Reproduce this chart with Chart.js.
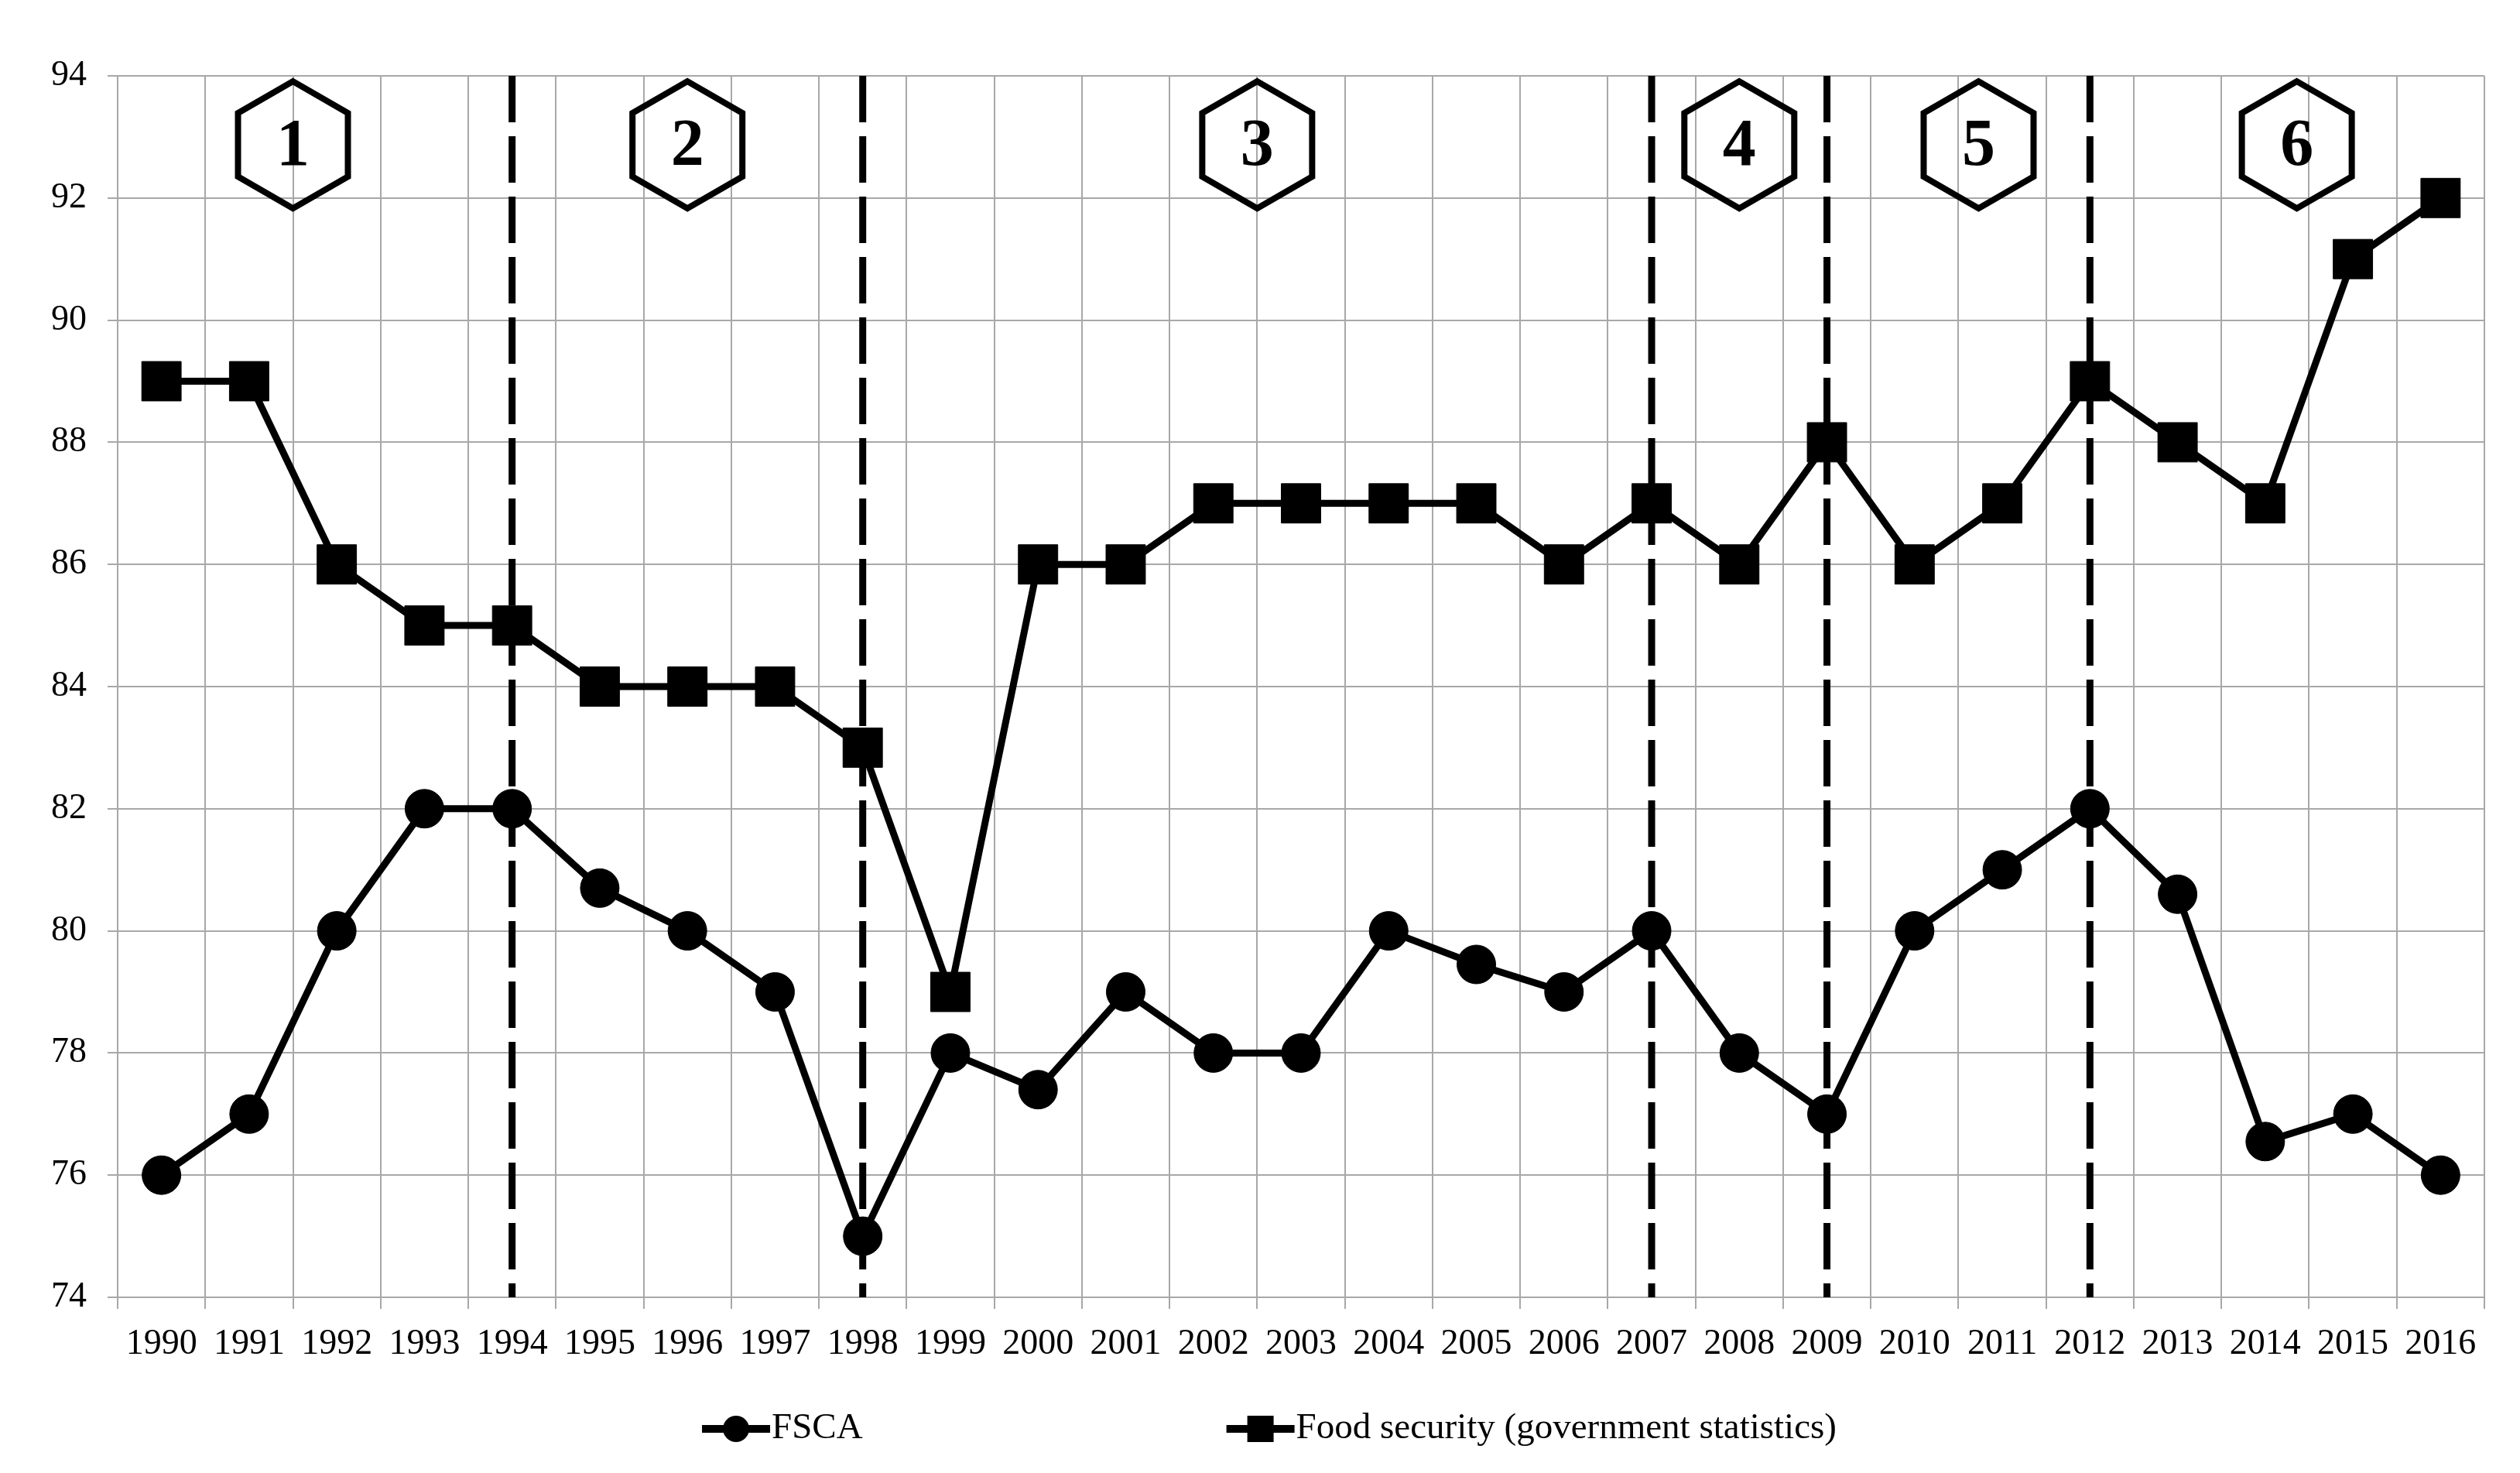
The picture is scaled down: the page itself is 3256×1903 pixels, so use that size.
<!DOCTYPE html>
<html>
<head>
<meta charset="utf-8">
<script src="https://cdn.jsdelivr.net/npm/chart.js@4.4.0/dist/chart.umd.min.js"></script>
<style>
  html, body { margin: 0; padding: 0; background: #fff; }
  #container_chart { width: 3256px; height: 1903px; }
</style>
</head>
<body>
<div id="container_chart"><canvas id="myChart" width="3256" height="1903"></canvas></div>
<script>
var years = ['1990', '1991', '1992', '1993', '1994', '1995', '1996', '1997', '1998', '1999',
             '2000', '2001', '2002', '2003', '2004', '2005', '2006', '2007', '2008', '2009',
             '2010', '2011', '2012', '2013', '2014', '2015', '2016'];
var fsca = [76, 77, 80, 82, 82, 80.7, 80, 79, 75, 78,
            77.4, 79, 78, 78, 80, 79.45, 79, 80, 78, 77,
            80, 81, 82, 80.6, 76.55, 77, 76];
var foodSecurity = [89, 89, 86, 85, 85, 84, 84, 84, 83, 79,
                    86, 86, 87, 87, 87, 87, 86, 87, 86, 88,
                    86, 87, 89, 88, 87, 91, 92];
var yMin = 74, yMax = 94, yStep = 2;

// period boundaries and the numbered hexagons
var periodBreaks = ['1994', '1998', '2007', '2009', '2012'];
var periodNames = ['1', '2', '3', '4', '5', '6'];
var periodPos = [1.5, 6, 12.5, 18, 20.73, 24.36];
var periodLevel = 92.87;

var serif = '"Liberation Serif", "Times New Roman", serif';
var gridColor = '#a8a8a8';

var periodPlugin = {
    id: 'periods',
    beforeDatasetsDraw: function (chart) {
        var ctx = chart.ctx, xs = chart.scales.x, ys = chart.scales.y, area = chart.chartArea;
        ctx.save();
        ctx.strokeStyle = '#000';
        ctx.lineWidth = 9;
        ctx.setLineDash([60, 18]);
        periodBreaks.forEach(function (yr) {
            var px = xs.getPixelForValue(years.indexOf(yr));
            ctx.beginPath();
            ctx.moveTo(px, area.top);
            ctx.lineTo(px, area.bottom);
            ctx.stroke();
        });
        ctx.setLineDash([]);
        ctx.lineWidth = 8;
        ctx.lineJoin = 'miter';
        ctx.fillStyle = '#000';
        ctx.font = 'bold 86px ' + serif;
        ctx.textAlign = 'center';
        ctx.textBaseline = 'middle';
        var hw = 71, hh = 82, side = 41;
        periodNames.forEach(function (name, i) {
            var cx = xs.getPixelForValue(periodPos[i]);
            var cy = ys.getPixelForValue(periodLevel);
            ctx.beginPath();
            ctx.moveTo(cx, cy - hh);
            ctx.lineTo(cx + hw, cy - side);
            ctx.lineTo(cx + hw, cy + side);
            ctx.lineTo(cx, cy + hh);
            ctx.lineTo(cx - hw, cy + side);
            ctx.lineTo(cx - hw, cy - side);
            ctx.closePath();
            ctx.stroke();
            ctx.fillText(name, cx, cy + 4);
        });
        ctx.restore();
    }
};

var legendPlugin = {
    id: 'bottomLegend',
    afterDraw: function (chart) {
        var ctx = chart.ctx;
        ctx.save();
        ctx.font = '47px ' + serif;
        ctx.textBaseline = 'middle';
        ctx.textAlign = 'left';
        var sample = 88, itemGap = 470;
        var items = chart.data.datasets.map(function (ds) {
            return { text: ds.label, style: ds.pointStyle, w: ctx.measureText(ds.label).width };
        });
        var total = 0;
        items.forEach(function (it, i) { total += sample + 2 + it.w + (i ? itemGap : 0); });
        var x = 1640 - total / 2, yc = 1846;
        items.forEach(function (it) {
            ctx.strokeStyle = '#000';
            ctx.fillStyle = '#000';
            ctx.lineWidth = 10;
            ctx.beginPath();
            ctx.moveTo(x, yc);
            ctx.lineTo(x + sample, yc);
            ctx.stroke();
            var mx = x + sample / 2;
            ctx.beginPath();
            if (it.style === 'rect') {
                ctx.rect(mx - 17, yc - 17, 34, 34);
            } else {
                ctx.arc(mx, yc, 17, 0, Math.PI * 2);
            }
            ctx.fill();
            ctx.fillText(it.text, x + sample + 2, yc);
            x += sample + 2 + it.w + itemGap;
        });
        ctx.restore();
    }
};

var ctx = document.querySelector('#myChart').getContext('2d');
var myChart = new Chart(ctx, {
    type: 'line',
    data: {
        labels: years,
        datasets: [{
            label: 'FSCA',
            data: fsca,
            borderColor: '#000',
            backgroundColor: '#000',
            borderWidth: 9,
            pointStyle: 'circle',
            pointRadius: 25,
            pointBorderWidth: 1,
            tension: 0
        }, {
            label: 'Food security (government statistics)',
            data: foodSecurity,
            borderColor: '#000',
            backgroundColor: '#000',
            borderWidth: 9,
            pointStyle: 'rect',
            pointRadius: 36,
            pointBorderWidth: 1,
            tension: 0
        }]
    },
    options: {
        responsive: false,
        animation: false,
        layout: { padding: { top: 98, right: 46, bottom: 0, left: 0 } },
        plugins: {
            legend: { display: false },
            tooltip: { enabled: false }
        },
        scales: {
            x: {
                offset: true,
                grid: { offset: true, color: gridColor, lineWidth: 2, tickLength: 15, tickColor: gridColor },
                border: { color: gridColor, width: 2 },
                ticks: {
                    autoSkip: false, maxRotation: 0, minRotation: 0,
                    color: '#000', padding: 18,
                    font: { family: serif, size: 46 }
                },
                afterFit: function (scale) { scale.height = 227; }
            },
            y: {
                min: yMin, max: yMax,
                grid: { color: gridColor, lineWidth: 2, tickLength: 13, tickColor: gridColor },
                border: { color: gridColor, width: 2 },
                ticks: {
                    stepSize: yStep, color: '#000', padding: 27,
                    font: { family: serif, size: 46 }
                },
                afterFit: function (scale) { scale.width = 152; }
            }
        }
    },
    plugins: [periodPlugin, legendPlugin]
});
</script>
</body>
</html>
